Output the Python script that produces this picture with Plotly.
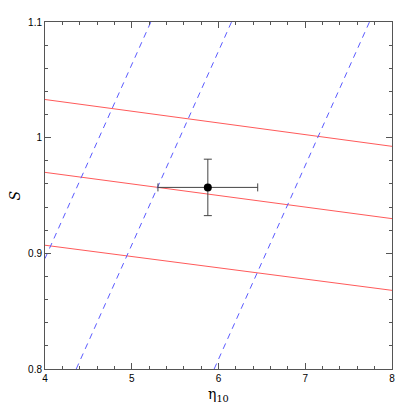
import plotly.graph_objects as go

# red solid lines: value at eta=4 and eta=8
red_x = [4, 8]
red_lines = [
    [1.033, 0.9925],
    [0.970, 0.930],
    [0.907, 0.868],
]

# blue dashed lines: eta at S=0.8 and S=1.1
blue_y = [0.8, 1.1]
blue_lines = [
    [3.43, 5.22],
    [4.36, 6.15],
    [5.95, 7.74],
]

# measured point with errors
pt_eta = [5.877]
pt_s = [0.957]
pt_eta_err = [0.575]
pt_s_err = [0.0244]

fig = go.Figure()

for ys in red_lines:
    fig.add_trace(go.Scatter(x=red_x, y=ys, mode="lines",
                             line=dict(color="#ff5a5a", width=1)))

for xs in blue_lines:
    fig.add_trace(go.Scatter(x=xs, y=blue_y, mode="lines",
                             line=dict(color="#5a5aff", width=1, dash="6px,5px")))

fig.add_trace(go.Scatter(
    x=pt_eta, y=pt_s, mode="markers",
    marker=dict(color="black", size=8),
    error_x=dict(type="data", array=pt_eta_err, color="#444", thickness=1, width=4),
    error_y=dict(type="data", array=pt_s_err, color="#444", thickness=1, width=4),
))

axis_common = dict(
    showgrid=False, zeroline=False, automargin=False,
    showline=True, linecolor="#555", linewidth=1, mirror="ticks",
    ticks="inside", ticklen=6, tickcolor="#555",
    tickfont=dict(family="Liberation Sans", size=10, color="black"),
)

# page body has an 8px margin, so the figure is sized to fit the 414 window
fig.update_layout(
    width=406, height=406,
    margin=dict(l=37, r=22, t=14, b=45),
    paper_bgcolor="white", plot_bgcolor="white",
    showlegend=False,
    xaxis=dict(range=[4, 8], dtick=1,
               minor=dict(dtick=0.2, ticks="inside", ticklen=3, tickcolor="#555"),
               **axis_common),
    yaxis=dict(range=[0.8, 1.1], dtick=0.1,
               minor=dict(dtick=0.02, ticks="inside", ticklen=3, tickcolor="#555"),
               **axis_common),
    annotations=[
        dict(text="η<sub>10</sub>", xref="paper", yref="paper", x=0.5, y=-0.075,
             xanchor="center", yanchor="middle", showarrow=False,
             font=dict(family="DejaVu Serif", size=14, color="black")),
        dict(text="<i>S</i>", xref="paper", yref="paper", x=-0.089, y=0.5,
             xanchor="center", yanchor="middle", showarrow=False, textangle=-90,
             font=dict(family="DejaVu Serif", size=14, color="black")),
    ],
)

fig.write_html("out.html")
